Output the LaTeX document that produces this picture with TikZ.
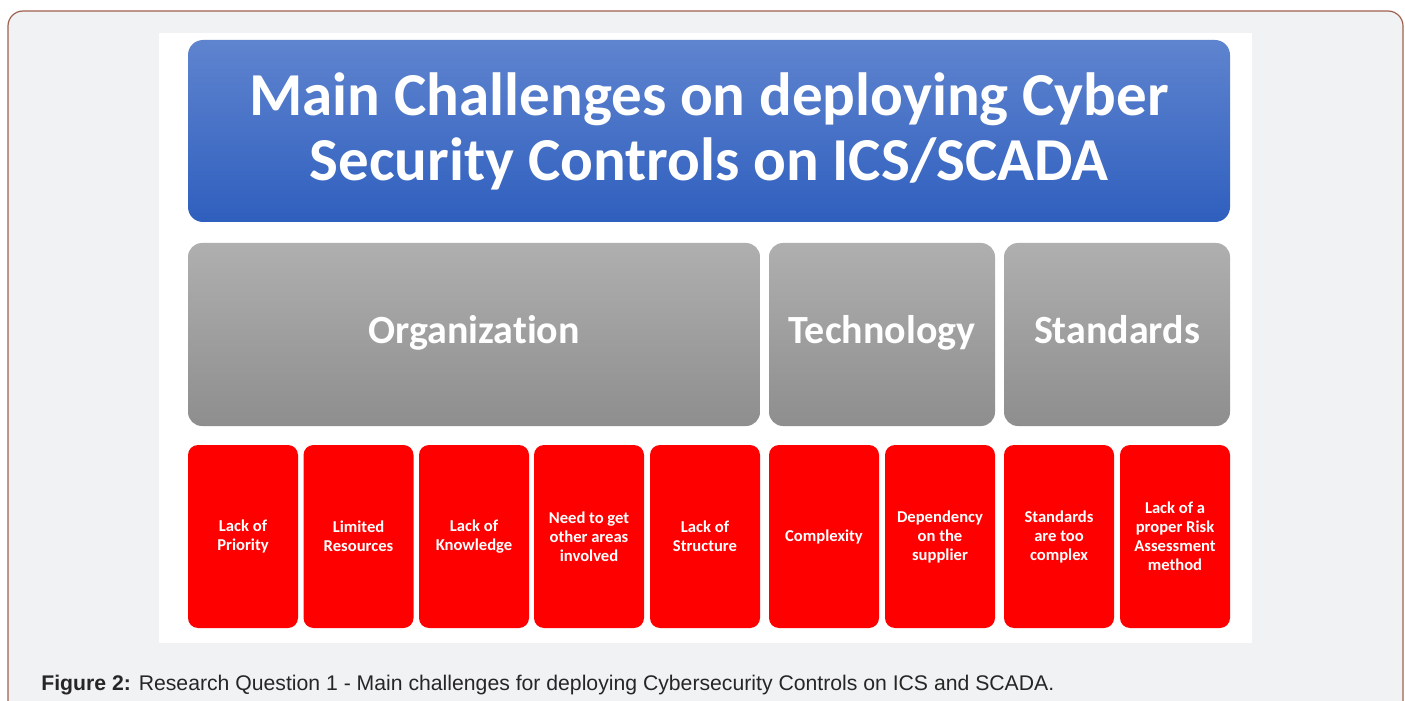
\documentclass[tikz,border=0pt]{standalone}
\usepackage{fontspec}
\setmainfont[Ligatures=NoCommon]{Carlito}
\newfontfamily\capfont{Liberation Sans}
\definecolor{framecol}{HTML}{A0604F}
\definecolor{pagebg}{HTML}{F1F2F4}
\definecolor{bluetop}{HTML}{5F84CF}
\definecolor{bluebot}{HTML}{2F5FBE}
\definecolor{greytop}{HTML}{AFAFAF}
\definecolor{greybot}{HTML}{8E8E8E}
\definecolor{itemred}{HTML}{FF0000}
\tikzset{
  titlebox/.style={rectangle, rounded corners=7.5pt, top color=bluetop, bottom color=bluebot,
    draw=none, text=white, align=center, minimum width=521pt, minimum height=91pt,
    font=\bfseries\fontsize{30.5pt}{32.5pt}\selectfont},
  groupbox/.style={rectangle, rounded corners=7pt, top color=greytop, bottom color=greybot,
    draw=none, text=white, align=center, minimum height=91.5pt,
    text height=0.85em, text depth=0pt,
    font=\bfseries\fontsize{20pt}{24pt}\selectfont},
  itembox/.style={rectangle, rounded corners=5pt, fill=itemred, draw=none, text=white,
    align=center, minimum width=55pt, minimum height=91.5pt, inner sep=1pt,
    font=\bfseries\fontsize{8.3pt}{9.5pt}\selectfont},
}
\begin{document}
\begin{tikzpicture}[x=0.5pt,y=-0.5pt]
\useasboundingbox (0,0) rectangle (1405,701);
\clip (0,0) rectangle (1405,701);
% page frame
\draw[framecol, line width=0.6pt, fill=pagebg, rounded corners=7.5pt]
  (8,780) -- (8,11) -- (1403,11) -- (1403,780);
% white figure panel
\fill[white] (159,33) rectangle (1252,643);
% title
\node[titlebox] (title) at (709,131) {Main Challenges on deploying Cyber\\Security Controls on ICS/SCADA};
% categories
\node[groupbox, minimum width=286pt] (org) at (474,334.5) {Organization};
\node[groupbox, minimum width=113pt] (tech) at (882,334.5) {Technology};
\node[groupbox, minimum width=113pt] (std) at (1117,334.5) {Standards};
% challenges
\node[itembox] (i1) at (243,536.5) {Lack of\\Priority};
\node[itembox] (i2) at (358.5,536.5) {Limited\\Resources};
\node[itembox] (i3) at (474,536.5) {Lack of\\Knowledge};
\node[itembox] (i4) at (589,536.5) {Need to get\\other areas\\involved};
\node[itembox] (i5) at (705,536.5) {Lack of\\Structure};
\node[itembox] (i6) at (824,536.5) {Complexity};
\node[itembox] (i7) at (940,536.5) {Dependency\\on the\\supplier};
\node[itembox] (i8) at (1059,536.5) {Standards\\are too\\complex};
\node[itembox] (i9) at (1175,536.5) {Lack of a\\proper Risk\\Assessment\\method};
% caption
\node[anchor=base west, inner sep=0pt, font=\capfont\fontsize{10.6pt}{12pt}\selectfont, text=black!85]
  (cap) at (41,690) {\textbf{Figure 2:} Research Question 1 - Main challenges for deploying Cybersecurity Controls on ICS and SCADA.};
\end{tikzpicture}
\end{document}
